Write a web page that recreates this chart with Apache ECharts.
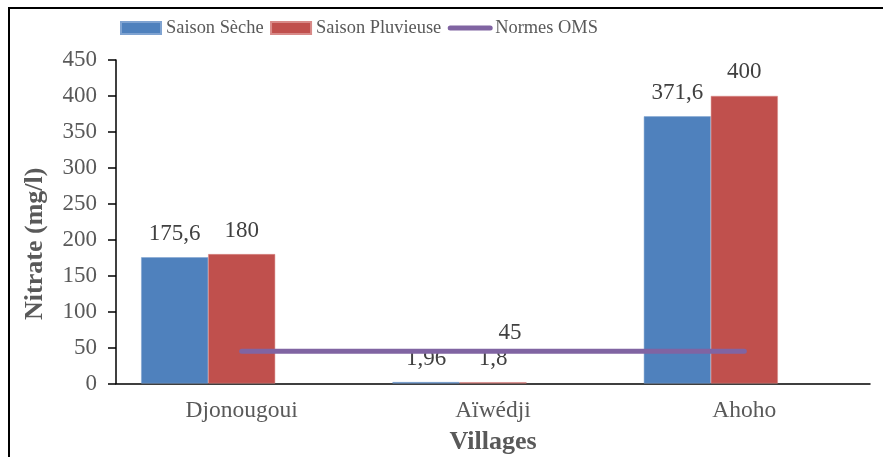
<!DOCTYPE html>
<html>
<head>
    <meta charset="utf-8">
    <title>Nitrate</title>
    <script src="https://cdn.jsdelivr.net/npm/echarts@6.0.0/dist/echarts.min.js"></script>
    <style>
        html, body { margin: 0; padding: 0; background: #fff; }
        #chart { width: 883px; height: 457px; }
    </style>
</head>
<body>
<div id="chart"></div>

<script>
    // donnees
    var villages    = ['Djonougoui', 'Aïwédji', 'Ahoho'];
    var saisonSeche = [175.6, 1.96, 371.6];
    var saisonPluv  = [180, 1.8, 400];
    var normesOMS   = [45, 45, 45];
    var yTicks      = [0, 50, 100, 150, 200, 250, 300, 350, 400, 450];

    var fontFam = '"Liberation Serif", "Times New Roman", serif';
    var grey    = '#595959';
    var dark    = '#404040';

    function virgule(v) {
        return String(v).replace('.', ',');
    }

    var chart = echarts.init(document.getElementById('chart'));

    var barLabel = {
        show: true, position: 'top', distance: 12,
        fontFamily: fontFam, fontSize: 23, color: dark,
        formatter: function (p) { return virgule(p.value); }
    };

    var option = {
        backgroundColor: '#fff',
        animation: false,
        textStyle: { fontFamily: fontFam },
        legend: {
            data: [
                { name: 'Saison Sèche', icon: 'rect' },
                { name: 'Saison Pluvieuse', icon: 'rect' },
                {
                    name: 'Normes OMS', icon: 'inherit',
                    itemStyle: { opacity: 0, borderWidth: 0 },
                    lineStyle: { width: 5, cap: 'round', opacity: 1 }
                }
            ],
            left: 115,
            top: 14,
            itemWidth: 40,
            itemHeight: 12,
            itemGap: 6.5,
            textStyle: { fontFamily: fontFam, fontSize: 18.4, color: grey }
        },
        grid: {
            left: 116,
            top: 60,
            width: 754,
            height: 323.5,
            containLabel: false,
            outerBoundsMode: 'none'
        },
        xAxis: {
            type: 'category',
            data: villages,
            name: 'Villages',
            nameLocation: 'middle',
            nameGap: 46,
            nameTextStyle: { fontFamily: fontFam, fontSize: 26, fontWeight: 'bold', color: grey },
            axisLine: { lineStyle: { color: '#000', width: 1.5 } },
            axisTick: { alignWithLabel: true, length: 7, lineStyle: { color: '#000', width: 1.5 } },
            axisLabel: { margin: 15, fontFamily: fontFam, fontSize: 23.5, color: grey }
        },
        yAxis: {
            type: 'value',
            min: yTicks[0],
            max: yTicks[yTicks.length - 1],
            interval: 50,
            name: 'Nitrate (mg/l)',
            nameLocation: 'middle',
            nameGap: 68,
            nameTextStyle: {
                fontFamily: fontFam, fontSize: 26, fontWeight: 'bold', color: grey,
                padding: [0, 44, 0, 0]
            },
            axisLine: { show: true, lineStyle: { color: '#000', width: 1.5 } },
            axisTick: { show: true, length: 8, lineStyle: { color: '#000', width: 1.5 } },
            axisLabel: { margin: 19, fontFamily: fontFam, fontSize: 23, color: grey },
            splitLine: { show: false }
        },
        series: [
            {
                name: 'Saison Sèche',
                type: 'bar',
                data: saisonSeche,
                barWidth: 67,
                barGap: '0%',
                itemStyle: { color: '#4F81BD', borderColor: '#7FA3D1', borderWidth: 0.5 },
                label: barLabel
            },
            {
                name: 'Saison Pluvieuse',
                type: 'bar',
                data: saisonPluv,
                barWidth: 67,
                barGap: '0%',
                itemStyle: { color: '#C0504D', borderColor: '#D88A88', borderWidth: 0.5 },
                label: barLabel
            },
            {
                // serie vide (place reservee comme dans Excel)
                name: '_vide',
                type: 'bar',
                data: [null, null, null],
                barWidth: 67,
                barGap: '0%'
            },
            {
                name: 'Normes OMS',
                type: 'line',
                data: normesOMS,
                symbol: 'none',
                z: 5,
                lineStyle: { color: '#8064A2', width: 5, cap: 'round' },
                itemStyle: { color: '#8064A2' },
                markPoint: {
                    symbol: 'circle',
                    symbolSize: 0,
                    data: [{ coord: [1, normesOMS[1]], value: normesOMS[1] }],
                    label: {
                        show: true, position: 'top', distance: 7, offset: [17, 0],
                        fontFamily: fontFam, fontSize: 23, color: dark
                    }
                }
            }
        ],
        graphic: [
            {
                type: 'polyline',
                shape: { points: [[9, 457], [9, 8], [883, 8]] },
                style: { stroke: '#000', lineWidth: 2, fill: null }
            }
        ]
    };

    chart.setOption(option);
</script>
</body>
</html>
